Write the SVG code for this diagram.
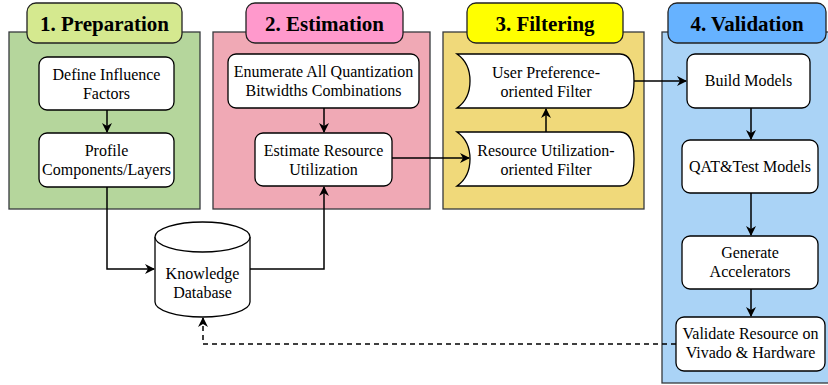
<svg xmlns="http://www.w3.org/2000/svg" width="828" height="385" viewBox="0 0 828 385">
<defs>
<style>
.panel{stroke:#36393d;stroke-width:1.3}
.tab{stroke:#222;stroke-width:1.3}
.node{fill:#fff;stroke:#000;stroke-width:1.3}
text{font-family:'Liberation Serif','Times New Roman',Times,'DejaVu Serif',serif}
.title{font-size:21px;font-weight:bold;fill:#000;text-anchor:middle}
.t{font-size:16px;fill:#000;text-anchor:middle}
.edge{fill:none;stroke:#000;stroke-width:1.5}
.dash{stroke-dasharray:5 4}
</style>
<marker id="arr" viewBox="0 0 10 10" refX="9" refY="5" markerWidth="10" markerHeight="10" markerUnits="userSpaceOnUse" orient="auto">
<path d="M0,0 L10,5 L0,10 L3,5 Z" fill="#000"/>
</marker>
</defs>

<g id="panel1">
<rect class="panel" x="9" y="32" width="191" height="177" fill="#b5d69c"/>
<rect class="tab" x="27" y="3" width="155" height="40" rx="9" fill="#d5e98f"/>
<text class="title" x="104.5" y="31">1. Preparation</text>
</g>
<g id="panel2">
<rect class="panel" x="213" y="32" width="217" height="177" fill="#f0a9b5"/>
<rect class="tab" x="246" y="3" width="157" height="40" rx="9" fill="#ff99cc"/>
<text class="title" x="324.5" y="31">2. Estimation</text>
</g>
<g id="panel3">
<rect class="panel" x="443" y="32" width="201" height="177" fill="#f0d97a"/>
<rect class="tab" x="467" y="3" width="156" height="40" rx="9" fill="#ffff00"/>
<text class="title" x="545" y="31">3. Filtering</text>
</g>
<g id="panel4">
<rect class="panel" x="662" y="32" width="180" height="351" fill="#aad3f6"/>
<rect class="tab" x="668" y="3" width="158" height="40" rx="9" fill="#66b2ff"/>
<text class="title" x="747" y="31">4. Validation</text>
</g>

<g id="connectors">
<path class="edge" d="M107,110 V132" marker-end="url(#arr)"/>
<path class="edge" d="M107,187 V269 H154" marker-end="url(#arr)"/>
<path class="edge" d="M250,269 H324 V187" marker-end="url(#arr)"/>
<path class="edge" d="M324,108 V132" marker-end="url(#arr)"/>
<path class="edge" d="M392,158 H469" marker-end="url(#arr)"/>
<path class="edge" d="M546,132 V109" marker-end="url(#arr)"/>
<path class="edge" d="M634,81 H686" marker-end="url(#arr)"/>
<path class="edge" d="M751,108 V139" marker-end="url(#arr)"/>
<path class="edge" d="M751,193 V235" marker-end="url(#arr)"/>
<path class="edge" d="M751,289 V316" marker-end="url(#arr)"/>
<path class="edge dash" d="M676,344 H203 V318" marker-end="url(#arr)"/>
</g>

<g id="define">
<rect class="node" x="39" y="57" width="135" height="53" rx="8"/>
<text class="t" x="106.5" y="80">Define Influence</text>
<text class="t" x="106.5" y="99">Factors</text>
</g>
<g id="profile">
<rect class="node" x="39" y="133" width="135" height="54" rx="8"/>
<text class="t" x="106.5" y="156">Profile</text>
<text class="t" x="106.5" y="175">Components/Layers</text>
</g>
<g id="enumerate">
<rect class="node" x="228" y="54" width="191" height="54" rx="8"/>
<text class="t" x="323.5" y="77">Enumerate All Quantization</text>
<text class="t" x="323.5" y="96">Bitwidths Combinations</text>
</g>
<g id="estimate">
<rect class="node" x="255" y="133" width="137" height="53" rx="8"/>
<text class="t" x="323.5" y="156">Estimate Resource</text>
<text class="t" x="323.5" y="175">Utilization</text>
</g>
<g id="userfilter">
<path class="node" d="M457,54 H620 Q634,54 634,81 Q634,108 620,108 H457 Q470,99 470,81 Q470,63 457,54 Z"/>
<text class="t" x="546" y="78">User Preference-</text>
<text class="t" x="546" y="97">oriented Filter</text>
</g>
<g id="resfilter">
<path class="node" d="M457,132 H620 Q634,132 634,159 Q634,186 620,186 H457 Q470,177 470,159 Q470,141 457,132 Z"/>
<text class="t" x="546" y="156">Resource Utilization-</text>
<text class="t" x="546" y="175">oriented Filter</text>
</g>
<g id="build">
<rect class="node" x="687" y="54" width="123" height="54" rx="8"/>
<text class="t" x="748.5" y="86">Build Models</text>
</g>
<g id="qat">
<rect class="node" x="682" y="140" width="136" height="53" rx="8"/>
<text class="t" x="750" y="172">QAT&amp;Test Models</text>
</g>
<g id="generate">
<rect class="node" x="682" y="236" width="136" height="53" rx="8"/>
<text class="t" x="750" y="258">Generate</text>
<text class="t" x="750" y="277">Accelerators</text>
</g>
<g id="validate">
<rect class="node" x="676" y="317" width="149" height="54" rx="8"/>
<text class="t" x="750.5" y="339">Validate Resource on</text>
<text class="t" x="750.5" y="358">Vivado &amp; Hardware</text>
</g>
<g id="knowledge">
<path class="node" d="M155,237 V302 A47.5,15 0 0 0 250,302 V237 A47.5,15 0 0 0 155,237 Z"/>
<path class="node" d="M155,237 A47.5,15 0 0 0 250,237" fill="none"/>
<text class="t" x="202.5" y="279">Knowledge</text>
<text class="t" x="202.5" y="298">Database</text>
</g>
</svg>
